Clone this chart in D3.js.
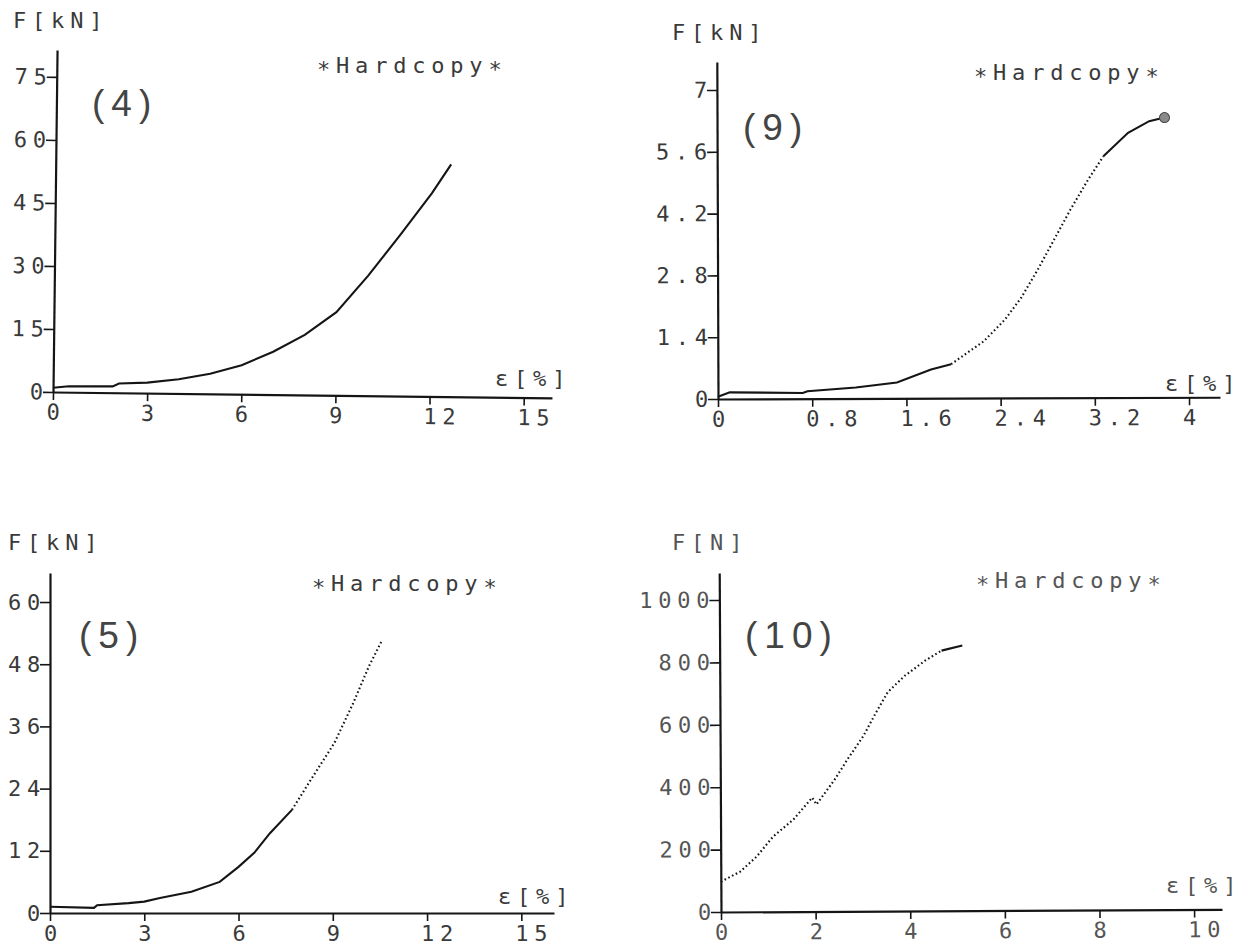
<!DOCTYPE html>
<html>
<head>
<meta charset="utf-8">
<script src="https://cdn.jsdelivr.net/npm/d3@7"></script>
<style>
  html, body { margin: 0; padding: 0; background: #fff; }
  svg { display: block; }
</style>
</head>
<body>
<div id="chart"></div>
<script>
const strain4 = [0, 0.5, 1.9, 2.1, 3.0, 4.0, 5.0, 6.0, 7.0, 8.0, 9.0, 10.0, 11.0, 12.0, 12.6];
const force4  = [1.0, 1.4, 1.5, 2.2, 2.5, 3.4, 4.8, 6.9, 10.2, 14.3, 19.8, 28.6, 38.3, 48.4, 55.3];

const strain9 = [0, 0.1, 0.72, 0.76, 1.17, 1.52, 1.81, 1.98, 2.26, 2.44, 2.58, 2.72, 2.86, 3.0, 3.14, 3.28, 3.49, 3.67, 3.80];
const force9  = [0.05, 0.15, 0.13, 0.17, 0.25, 0.36, 0.65, 0.77, 1.29, 1.78, 2.28, 2.91, 3.59, 4.27, 4.9, 5.47, 6.0, 6.26, 6.34];

const strain5 = [0, 1.4, 1.5, 2.5, 3.0, 3.5, 4.5, 5.4, 6.0, 6.5, 7.0, 7.7, 8.3, 9.05, 9.65, 10.15, 10.55];
const force5  = [1.2, 1.0, 1.5, 1.9, 2.2, 2.9, 4.1, 6.0, 8.9, 11.6, 15.4, 19.9, 25.7, 32.8, 40.5, 47.6, 52.4];

const strain10 = [0, 0.41, 0.76, 1.11, 1.54, 1.94, 2.03, 2.42, 2.69, 3.03, 3.30, 3.55, 3.91, 4.34, 4.69, 5.13];
const force10  = [97, 129, 177, 241, 295, 365, 343, 423, 487, 562, 637, 702, 754, 802, 834, 850];

// tick values
const xTicks4 = [0, 3, 6, 9, 12, 15];
const yTicks4 = [0, 15, 30, 45, 60, 75];
const xTicks9 = [0, 0.8, 1.6, 2.4, 3.2, 4];
const yTicks9 = [0, 1.4, 2.8, 4.2, 5.6, 7];
const xTicks5 = [0, 3, 6, 9, 12, 15];
const yTicks5 = [0, 12, 24, 36, 48, 60];
const xTicks10 = [0, 2, 4, 6, 8, 10];
const yTicks10 = [0, 200, 400, 600, 800, 1000];

const ink = "#151515";
const mono = "'DejaVu Sans Mono', 'Liberation Mono', monospace";
const fontSize = 22;
const spacing = 5.8;

// layout of every panel (origin = where the axes cross)
const panels = [
  {name: "(4)", yTitle: "F[kN]", strain: strain4, force: force4, xTicks: xTicks4, yTicks: yTicks4,
   origin: [53, 392], rotate: 0.68, xLen: 499, xMax: 15.9, yLen: 342, yMax: 81.4,
   dotted: null, endDot: false, textFill: "#3a3a3a",
   titlePos: [13, 20], hardPos: [317, 65], namePos: [92, 103], epsPos: [495, 378]},
  {name: "(9)", yTitle: "F[kN]", strain: strain9, force: force9, xTicks: xTicks9, yTicks: yTicks9,
   origin: [718, 399], rotate: -0.2, xLen: 502, xMax: 4.263, yLen: 337, yMax: 7.635,
   dotted: [1.98, 3.28], endDot: true, textFill: "#3a3a3a",
   titlePos: [672, 32], hardPos: [974, 72], namePos: [743, 127], epsPos: [1165, 383]},
  {name: "(5)", yTitle: "F[kN]", strain: strain5, force: force5, xTicks: xTicks5, yTicks: yTicks5,
   origin: [50, 913], rotate: 0, xLen: 504, xMax: 16.04, yLen: 340, yMax: 65.6,
   dotted: [7.7, 99], endDot: false, textFill: "#3a3a3a",
   titlePos: [8, 542], hardPos: [312, 583], namePos: [79, 635], epsPos: [498, 896]},
  {name: "(10)", yTitle: "F[N]", strain: strain10, force: force10, xTicks: xTicks10, yTicks: yTicks10,
   origin: [721, 912], rotate: -0.3, xLen: 501, xMax: 10.59, yLen: 339, yMax: 1086.5,
   dotted: [0, 4.69], endDot: false, textFill: "#555",
   titlePos: [672, 542], hardPos: [976, 580], namePos: [745, 635], epsPos: [1166, 885]}
];

const svg = d3.select("#chart").append("svg")
  .attr("width", 1249)
  .attr("height", 945);

function monoText(sel) {
  return sel.attr("font-family", mono)
    .attr("font-size", fontSize + "px")
    .attr("letter-spacing", spacing);
}

function drawPanel(p) {
  const [ox, oy] = p.origin;
  const g = svg.append("g")
    .attr("transform", `translate(${ox},${oy}) rotate(${p.rotate})`);

  const x = d3.scaleLinear().domain([0, p.xMax]).range([0, p.xLen]);
  const y = d3.scaleLinear().domain([0, p.yMax]).range([0, -p.yLen]);

  //x axis
  g.append("g")
    .call(d3.axisBottom(x).tickValues(p.xTicks).tickSize(8).tickSizeOuter(0).tickFormat(d => String(d)))
    .call(ax => {
      ax.select(".domain").attr("stroke", ink).attr("stroke-width", 2.2);
      ax.selectAll(".tick line").attr("stroke", ink).attr("stroke-width", 1.6);
      ax.selectAll(".tick text")
        .call(monoText)
        .attr("fill", p.textFill)
        .attr("text-anchor", "start")
        .attr("dx", -6.6)
        .attr("y", 12);
    });

  //y axis
  g.append("g")
    .call(d3.axisLeft(y).tickValues(p.yTicks).tickSize(10).tickSizeOuter(0).tickFormat(d => String(d)))
    .call(ax => {
      ax.select(".domain").attr("stroke", ink).attr("stroke-width", 2.2);
      ax.selectAll(".tick line").attr("stroke", ink).attr("stroke-width", 1.6);
      ax.selectAll(".tick text")
        .call(monoText)
        .attr("fill", p.textFill)
        .attr("x", -4);
    });

  //curve, split into solid and dotted stretches
  const pts = p.strain.map((s, i) => [s, p.force[i]]);
  const line = d3.line().x(d => x(d[0])).y(d => y(d[1]));
  let parts;
  if (p.dotted) {
    const [a, b] = p.dotted;
    parts = [
      {pts: pts.filter(d => d[0] <= a), dash: null},
      {pts: pts.filter(d => d[0] >= a && d[0] <= b), dash: "1.6,2.6"},
      {pts: pts.filter(d => d[0] >= b), dash: null}
    ].filter(q => q.pts.length > 1);
  } else {
    parts = [{pts: pts, dash: null}];
  }
  g.selectAll(".curve")
    .data(parts)
    .join("path")
    .attr("class", "curve")
    .attr("d", d => line(d.pts))
    .attr("fill", "none")
    .attr("stroke", ink)
    .attr("stroke-width", 2.1)
    .attr("stroke-dasharray", d => d.dash);

  if (p.endDot) {
    const last = pts[pts.length - 1];
    g.append("circle")
      .attr("cx", x(last[0]))
      .attr("cy", y(last[1]))
      .attr("r", 5)
      .attr("fill", "#8a8a8a")
      .attr("stroke", "#444")
      .attr("stroke-width", 1);
  }

  //labels around the plot
  svg.append("text")
    .attr("x", p.titlePos[0]).attr("y", p.titlePos[1])
    .attr("dominant-baseline", "central")
    .attr("fill", p.textFill)
    .call(monoText)
    .text(p.yTitle);

  const hard = svg.append("text")
    .attr("x", p.hardPos[0]).attr("y", p.hardPos[1])
    .attr("dominant-baseline", "central")
    .attr("fill", p.textFill)
    .call(monoText);
  hard.append("tspan").attr("dy", 4).text("*");
  hard.append("tspan").attr("dy", -4).text("Hardcopy");
  hard.append("tspan").attr("dy", 4).text("*");

  svg.append("text")
    .attr("x", p.namePos[0]).attr("y", p.namePos[1])
    .attr("dominant-baseline", "central")
    .attr("font-family", "'Liberation Sans', Arial, sans-serif")
    .attr("font-size", "37px")
    .attr("letter-spacing", 7)
    .attr("fill", "#444")
    .text(p.name);

  svg.append("text")
    .attr("x", p.epsPos[0]).attr("y", p.epsPos[1])
    .attr("dominant-baseline", "central")
    .attr("fill", p.textFill)
    .call(monoText)
    .text("ε[%]");
}

panels.forEach(drawPanel);
</script>
</body>
</html>
